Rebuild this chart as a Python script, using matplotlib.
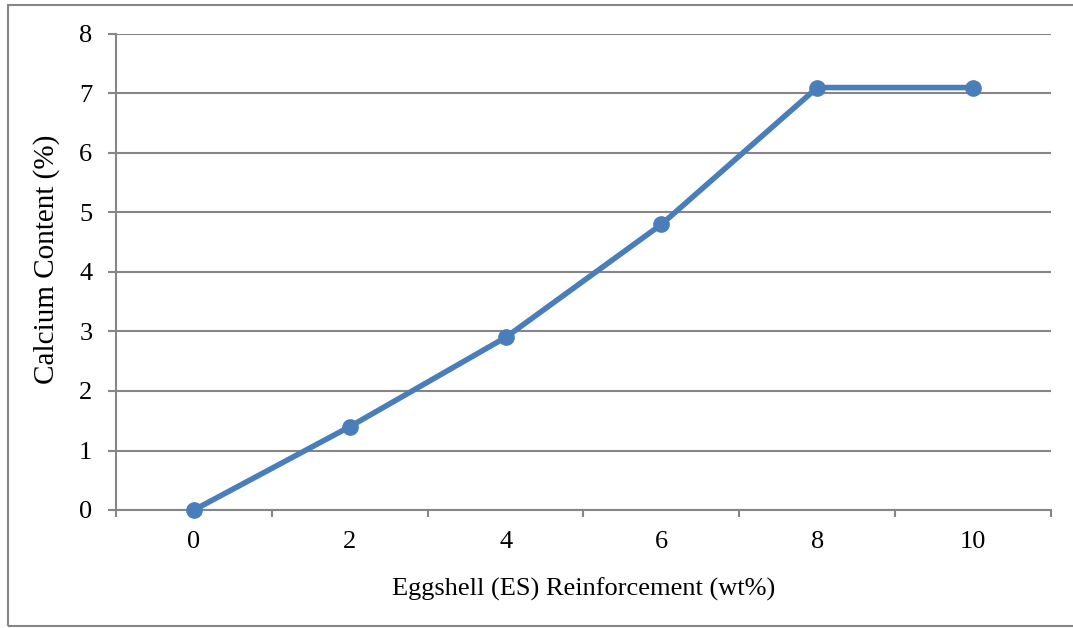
import matplotlib.pyplot as plt
from matplotlib.patches import Rectangle

# ES loading (wt%) and measured calcium content (%)
es_loading = ['0', '2', '4', '6', '8', '10']
calcium = [0, 1.4, 2.9, 4.8, 7.1, 7.1]
y_ticks = [0, 1, 2, 3, 4, 5, 6, 7, 8]

W, H = 1073, 628
plt.rcParams['font.family'] = ['Liberation Serif', 'DejaVu Serif']
fig = plt.figure(figsize=(W / 100, H / 100), dpi=100)
ax = fig.add_axes([116 / W, (H - 510) / H, (1051 - 116) / W, (510 - 34) / H])

grey = '#868686'
x = list(range(len(es_loading)))
ax.plot(x, calcium, color='#4A7EBB', lw=4, marker='o', ms=11,
        solid_capstyle='round', zorder=3, clip_on=False)

ax.set_xlim(-0.5, len(es_loading) - 0.5)
ax.set_ylim(0, 8)
ax.set_yticks(y_ticks)
ax.set_xticks(x)
ax.set_xticklabels(es_loading)
ax.set_xticks([i - 0.5 for i in range(len(es_loading) + 1)], minor=True)

ax.grid(axis='y', color=grey, lw=1.5)
ax.set_axisbelow(True)
for side in ['top', 'right']:
    ax.spines[side].set_visible(False)
for side in ['left', 'bottom']:
    ax.spines[side].set_color(grey)
    ax.spines[side].set_linewidth(1.5)

fs = 19
ax.tick_params(axis='y', direction='out', length=6, width=1.5, color=grey,
               labelsize=fs, pad=11)
ax.tick_params(axis='x', which='major', length=0, labelsize=fs, pad=15)
ax.tick_params(axis='x', which='minor', direction='out', length=5, width=1.5,
               color=grey)

ax.set_xlabel('Eggshell (ES) Reinforcement (wt%)', fontsize=fs)
ax.set_ylabel('Calcium Content (%)', fontsize=21)
ax.xaxis.set_label_coords(0.5, -(578 - 510) / (510 - 34))
ax.yaxis.set_label_coords(-(116 - 60) / (1051 - 116), (510 - 259) / (510 - 34))

# outer chart frame
fig.patches.append(Rectangle((8 / W, (H - 626) / H), 1.0, (626 - 5) / H,
                             transform=fig.transFigure, fill=False,
                             edgecolor=grey, lw=1.5))

fig.savefig('out.png', dpi=100)
